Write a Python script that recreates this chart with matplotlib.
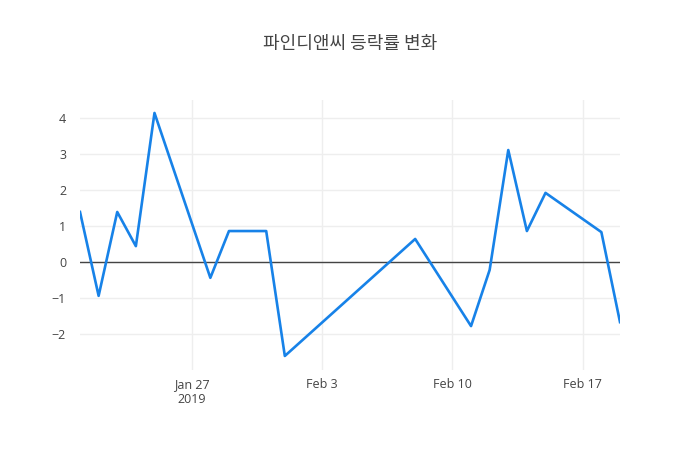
import matplotlib
matplotlib.use("Agg")
import matplotlib.pyplot as plt
import pandas as pd

# daily change rate (%)
dates = [
    "2019-01-21", "2019-01-22", "2019-01-23", "2019-01-24", "2019-01-25",
    "2019-01-28", "2019-01-29", "2019-01-31", "2019-02-01",
    "2019-02-08", "2019-02-11", "2019-02-12", "2019-02-13", "2019-02-14",
    "2019-02-15", "2019-02-18", "2019-02-19",
]
change = [
    1.39, -0.94, 1.39, 0.44, 4.14,
    -0.44, 0.86, 0.86, -2.61,
    0.64, -1.78, -0.22, 3.11, 0.86,
    1.92, 0.83, -1.67,
]
title = "파인디앤씨 등락률 변화"
yticks = [-2, -1, 0, 1, 2, 3, 4]
ytick_labels = ["\u22122", "\u22121", "0", "1", "2", "3", "4"]
xticks = ["2019-01-27", "2019-02-03", "2019-02-10", "2019-02-17"]
xtick_labels = ["Jan 27\n2019", "Feb 3", "Feb 10", "Feb 17"]

x = pd.to_datetime(dates)

plt.rcParams["font.family"] = ["Open Sans", "Noto Sans CJK KR", "DejaVu Sans"]

fig = plt.figure(figsize=(7, 4.5), dpi=100)
ax = fig.add_axes([80 / 700, 80 / 450, 540 / 700, 270 / 450])

ax.plot(x, change, color="#1782e8", lw=1.9, zorder=3)
ax.axhline(0, color="#444444", lw=1, zorder=2)

ax.set_xlim(x[0], x[-1])
ax.set_ylim(-3.0, 4.5)

ax.set_yticks(yticks)
ax.set_yticklabels(ytick_labels)
ax.set_xticks(pd.to_datetime(xticks))
ax.set_xticklabels(xtick_labels)

ax.grid(True, color="#eeeeee", lw=1, zorder=0)
for s in ax.spines.values():
    s.set_visible(False)
ax.tick_params(length=0, colors="#444444", labelsize=9, pad=6)
ax.tick_params(axis="y", pad=10)

fig.text(0.5, 1 - 44 / 450, title, ha="center", va="center", fontsize=13,
         color="#444444", weight="medium", family=["Noto Sans CJK KR", "DejaVu Sans"])

fig.savefig("out.png", dpi=100)
